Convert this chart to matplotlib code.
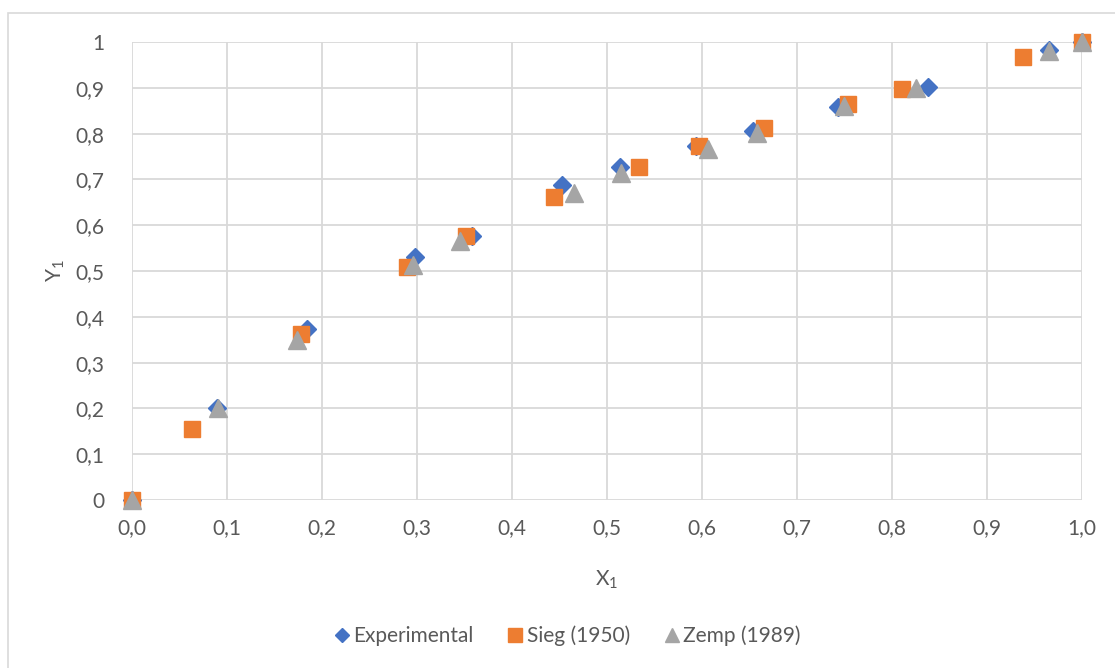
import matplotlib.pyplot as plt
from matplotlib.patches import Rectangle

# dados
x_exp = [0.0, 0.089, 0.184, 0.298, 0.358, 0.453, 0.514, 0.594, 0.654, 0.743, 0.838, 0.965, 1.0]
y_exp = [0.0, 0.201, 0.373, 0.531, 0.577, 0.688, 0.726, 0.773, 0.806, 0.859, 0.902, 0.983, 1.0]

x_sieg = [0.0, 0.063, 0.178, 0.289, 0.352, 0.444, 0.534, 0.597, 0.665, 0.754, 0.810, 0.938, 1.0]
y_sieg = [0.0, 0.155, 0.362, 0.508, 0.577, 0.662, 0.726, 0.773, 0.813, 0.864, 0.897, 0.967, 1.0]

x_zemp = [0.0, 0.090, 0.174, 0.296, 0.345, 0.465, 0.515, 0.606, 0.658, 0.749, 0.825, 0.965, 1.0]
y_zemp = [0.0, 0.200, 0.350, 0.514, 0.566, 0.670, 0.713, 0.767, 0.801, 0.860, 0.900, 0.980, 1.0]

azul = '#4472C4'
laranja = '#ED7D31'
cinza = '#A5A5A5'
texto = '#595959'
grade = '#D9D9D9'

plt.rcParams['font.family'] = ['Lato', 'DejaVu Sans']

fig = plt.figure(figsize=(11.15, 6.68), dpi=100)
ax = fig.add_axes([132/1115, 1 - 500/668, 950/1115, 458/668])

# moldura do grafico (so topo e esquerda aparecem)
fig.patches.append(Rectangle((8/1115, -0.1), 1.2, 1 - 13/668 + 0.1, transform=fig.transFigure,
                             fill=False, edgecolor=grade, lw=1.2))

ax.plot(x_exp, y_exp, 'D', color=azul, ms=9.5, ls='none', label='Experimental', clip_on=False, zorder=3)
ax.plot(x_sieg, y_sieg, 's', color=laranja, ms=12, ls='none', label='Sieg (1950)', clip_on=False, zorder=4)
ax.plot(x_zemp, y_zemp, '^', color=cinza, ms=13, ls='none', label='Zemp (1989)', clip_on=False, zorder=5)

ax.set_xlim(0, 1.0)
ax.set_ylim(0, 1.0)
xt = [i / 10 for i in range(11)]
ax.set_xticks(xt)
ax.set_yticks(xt)
ax.set_xticklabels([('%.1f' % v).replace('.', ',') for v in xt])
ax.set_yticklabels(['0'] + [('%.1f' % v).replace('.', ',') for v in xt[1:-1]] + ['1'])
ax.tick_params(length=0, labelsize=15, colors=texto)
ax.tick_params(axis='x', pad=13)
ax.tick_params(axis='y', pad=20)

ax.grid(True, color=grade, lw=1.3)
ax.set_axisbelow(True)
for s in ax.spines.values():
    s.set_visible(False)

ax.set_xlabel(r'X$\mathregular{_1}$', fontsize=15, color=texto, labelpad=22)
ax.set_ylabel(r'Y$\mathregular{_1}$', fontsize=15, color=texto, labelpad=6)

leg = fig.legend(loc='center', bbox_to_anchor=(566/1115, 1 - 636/668), ncol=3, frameon=False,
                 fontsize=15, handletextpad=0.05, columnspacing=1.5, handlelength=1.0, markerscale=0.8)
for t in leg.get_texts():
    t.set_color(texto)

fig.savefig('out.png', dpi=100)
